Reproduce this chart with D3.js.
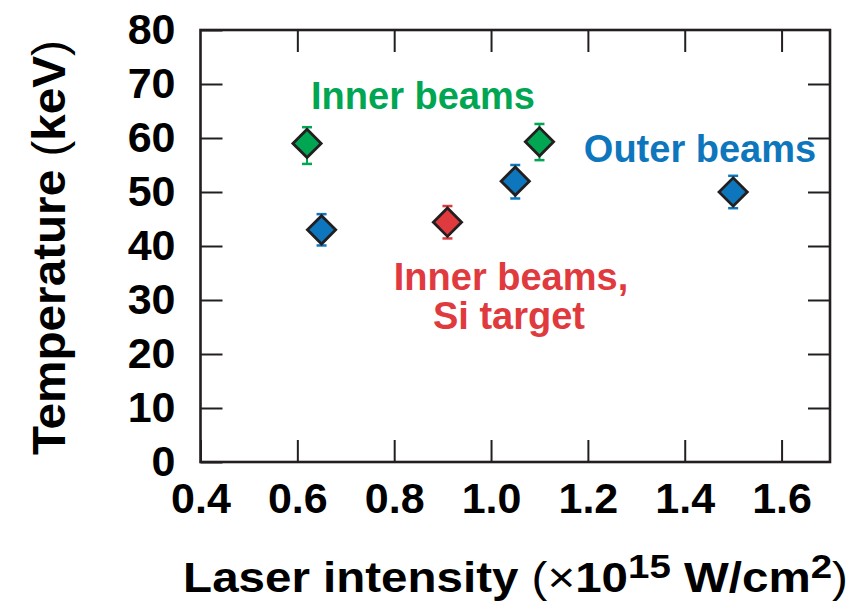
<!DOCTYPE html>
<html>
<head>
<meta charset="utf-8">
<script src="https://cdn.jsdelivr.net/npm/d3@7"></script>
<style>
  body { margin: 0; background: #fff; }
  svg { display: block; }
  text { font-family: "Liberation Sans", Arial, Helvetica, sans-serif; font-weight: bold; }
</style>
</head>
<body>
<div id="chart"></div>
<script>
// values
const intensity   = [0.62, 0.65, 0.91, 1.05, 1.10, 1.50];
const temperature = [59.0, 43.0, 44.4, 52.0, 59.3, 50.0];
const errHigh     = [62.0, 45.9, 47.4, 55.0, 62.6, 53.0];
const errLow      = [55.2, 40.1, 41.4, 48.8, 55.9, 47.0];
const group       = ['inner', 'outer', 'si', 'outer', 'inner', 'outer'];

const xTicks = [0.4, 0.6, 0.8, 1.0, 1.2, 1.4, 1.6];
const yTicks = [0, 10, 20, 30, 40, 50, 60, 70, 80];

const colors = { inner: '#00a651', outer: '#0e76bc', si: '#e03a3e' };
const ink = '#231f20';

const width = 856, height = 604;
const margin = { top: 30, right: 26, bottom: 142, left: 200.5 };

const svg = d3.select('#chart').append('svg')
    .attr('width', width)
    .attr('height', height);

const x = d3.scaleLinear().domain([0.4, 1.7]).range([margin.left, width - margin.right]);
const y = d3.scaleLinear().domain([0, 80]).range([height - margin.bottom, margin.top]);

const pts = intensity.map((v, i) => ({
    x: v, y: temperature[i], hi: errHigh[i], lo: errLow[i], g: group[i]
}));

// error bars
const eb = svg.append('g');
pts.forEach(p => {
    const c = colors[p.g];
    eb.append('line')
        .attr('x1', x(p.x)).attr('x2', x(p.x))
        .attr('y1', y(p.lo)).attr('y2', y(p.hi))
        .attr('stroke', c).attr('stroke-width', 2);
    [p.lo, p.hi].forEach(v => {
        eb.append('line')
            .attr('x1', x(p.x) - 5).attr('x2', x(p.x) + 5)
            .attr('y1', y(v)).attr('y2', y(v))
            .attr('stroke', c).attr('stroke-width', 2.5);
    });
});

// diamonds
const diamond = d3.symbol().type(d3.symbolSquare).size(400);
svg.append('g').selectAll('path')
    .data(pts)
    .join('path')
    .attr('d', diamond)
    .attr('transform', d => `translate(${x(d.x)},${y(d.y)}) rotate(45)`)
    .attr('fill', d => colors[d.g])
    .attr('stroke', ink)
    .attr('stroke-width', 2.8);

// axes (ticks inside on all four sides)
const styleAxis = g => {
    g.select('.domain').remove();
    g.selectAll('line').attr('stroke', ink).attr('stroke-width', 2);
    g.selectAll('text').attr('fill', '#000').style('font-size', '43px').style('font-family', null);
};

svg.append('g')
    .attr('transform', `translate(0,${y(0)})`)
    .call(d3.axisBottom(x).tickValues(xTicks).tickSize(-22).tickPadding(20).tickFormat(d3.format('.1f')))
    .call(styleAxis);

svg.append('g')
    .attr('transform', `translate(0,${y(80)})`)
    .call(d3.axisTop(x).tickValues(xTicks.slice(1)).tickSize(-22).tickFormat(''))
    .call(styleAxis);

svg.append('g')
    .attr('transform', `translate(${x(0.4)},0)`)
    .call(d3.axisLeft(y).tickValues(yTicks).tickSize(-22).tickPadding(25))
    .call(styleAxis);

svg.append('g')
    .attr('transform', `translate(${x(1.7)},0)`)
    .call(d3.axisRight(y).tickValues(yTicks.slice(1, -1)).tickSize(-22).tickFormat(''))
    .call(styleAxis);

svg.append('rect')
    .attr('x', x(0.4)).attr('y', y(80))
    .attr('width', x(1.7) - x(0.4)).attr('height', y(0) - y(80))
    .attr('fill', 'none').attr('stroke', ink).attr('stroke-width', 2.6);

// annotations
svg.append('text').attr('x', 423).attr('y', 109).attr('text-anchor', 'middle')
    .attr('fill', colors.inner).style('font-size', '38px').text('Inner beams');
svg.append('text').attr('x', 700).attr('y', 162).attr('text-anchor', 'middle')
    .attr('fill', colors.outer).style('font-size', '38px').text('Outer beams');
svg.append('text').attr('x', 511).attr('y', 290).attr('text-anchor', 'middle')
    .attr('fill', colors.si).style('font-size', '38px').text('Inner beams,');
svg.append('text').attr('x', 509).attr('y', 329).attr('text-anchor', 'middle')
    .attr('fill', colors.si).style('font-size', '38px').text('Si target');

// axis titles, stretched to the width of the original lettering
function fitWidth(sel, target, cx, cy, rot) {
    const w = sel.node().getBBox().width;
    sel.attr('transform', `translate(${cx},${cy}) rotate(${rot}) scale(${target / w},1)`);
}

const xt = svg.append('text').attr('text-anchor', 'middle').attr('fill', '#000').style('font-size', '42px');
xt.append('tspan').text('Laser intensity ');
xt.append('tspan').style('font-weight', 'normal').text('(\u00d7');
xt.append('tspan').text('10');
xt.append('tspan').attr('dy', -14).style('font-size', '34px').text('15');
xt.append('tspan').attr('dy', 14).text(' W/cm');
xt.append('tspan').attr('dy', -14).style('font-size', '34px').text('2');
xt.append('tspan').attr('dy', 14).style('font-weight', 'normal').text(')');
fitWidth(xt, 665, 515.5, 592, 0);

const yt = svg.append('text').attr('text-anchor', 'middle').attr('fill', '#000').style('font-size', '46px');
yt.append('tspan').text('Temperature ');
yt.append('tspan').style('font-weight', 'normal').text('(');
yt.append('tspan').text('keV');
yt.append('tspan').style('font-weight', 'normal').text(')');
fitWidth(yt, 415, 65, 247.5, -90);
</script>
</body>
</html>
